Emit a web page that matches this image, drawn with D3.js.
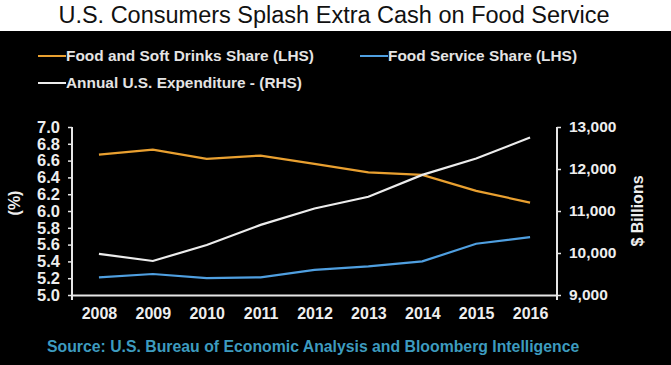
<!DOCTYPE html>
<html>
<head>
<meta charset="utf-8">
<script src="https://cdn.jsdelivr.net/npm/d3@7"></script>
<style>
  body { margin: 0; background: #fff; }
  svg { display: block; font-family: "Liberation Sans", Arial, sans-serif; }
</style>
</head>
<body>
<div id="chart"></div>
<script>
// chart data
const years = ['2008', '2009', '2010', '2011', '2012', '2013', '2014', '2015', '2016'];
const foodDrinksShare = [6.67, 6.73, 6.62, 6.66, 6.56, 6.46, 6.43, 6.24, 6.10];
const foodServiceShare = [5.21, 5.25, 5.20, 5.21, 5.30, 5.34, 5.40, 5.61, 5.69];
const annualExpenditure = [9980, 9810, 10190, 10670, 11060, 11340, 11860, 12250, 12750];
const leftTicks = [5.0, 5.2, 5.4, 5.6, 5.8, 6.0, 6.2, 6.4, 6.6, 6.8, 7.0];
const rightTicks = [9000, 10000, 11000, 12000, 13000];

const width = 671, height = 365;
const margin = { top: 127, right: 114, bottom: 70, left: 72 };

const svg = d3.select('#chart').append('svg')
    .attr('width', width)
    .attr('height', height);

// white title band, black chart area
svg.append('rect').attr('width', width).attr('height', 31).attr('fill', '#fff');
svg.append('rect').attr('y', 31).attr('width', width).attr('height', height - 31).attr('fill', '#000');

svg.append('text')
    .attr('x', 334)
    .attr('y', 23)
    .attr('text-anchor', 'middle')
    .attr('font-size', 23.5)
    .attr('fill', '#111')
    .text('U.S. Consumers Splash Extra Cash on Food Service');

const innerW = width - margin.left - margin.right;
const innerH = height - margin.top - margin.bottom;

const x = d3.scalePoint().domain(years).range([0, innerW]).padding(0.5);
const yL = d3.scaleLinear().domain([5, 7]).range([innerH, 0]);
const yR = d3.scaleLinear().domain([9000, 13000]).range([innerH, 0]);

const chart = svg.append('g').attr('transform', `translate(${margin.left},${margin.top})`);

const axisColor = '#e6e6e6';

// left axis
const leftAxis = chart.append('g')
    .call(d3.axisLeft(yL).tickValues(leftTicks).tickFormat(d3.format('.1f')).tickSizeOuter(0).tickSize(4).tickPadding(8));
leftAxis.selectAll('.tick text').attr('font-size', 16.5);
// right axis
const rightAxis = chart.append('g')
    .attr('transform', `translate(${innerW},0)`)
    .call(d3.axisRight(yR).tickValues(rightTicks).tickFormat(d3.format(',')).tickSizeOuter(0).tickSize(4).tickPadding(8));
rightAxis.selectAll('.tick text').attr('font-size', 15.5);
[leftAxis, rightAxis].forEach(a => {
    a.select('.domain').attr('stroke', axisColor).attr('stroke-width', 2)
        .attr('d', `M0,0V${innerH + 5}`);
    a.selectAll('.tick line').attr('stroke', axisColor).attr('stroke-width', 1.5);
    a.selectAll('.tick text').attr('fill', '#eee').attr('font-weight', 'bold');
});

// bottom axis
const bottomAxis = chart.append('g')
    .attr('transform', `translate(0,${innerH})`)
    .call(d3.axisBottom(x).tickSize(0).tickPadding(13));
bottomAxis.select('.domain').attr('stroke', axisColor).attr('stroke-width', 2);
bottomAxis.selectAll('.tick text').attr('fill', '#eee').attr('font-size', 16).attr('font-weight', 'bold');

// axis titles
svg.append('text')
    .attr('transform', `translate(20,${margin.top + innerH / 2 - 8}) rotate(-90)`)
    .attr('text-anchor', 'middle')
    .attr('font-size', 16).attr('font-weight', 'bold').attr('fill', '#eee')
    .text('(%)');
svg.append('text')
    .attr('transform', `translate(643,${margin.top + innerH / 2}) rotate(-90)`)
    .attr('text-anchor', 'middle')
    .attr('font-size', 16).attr('font-weight', 'bold').attr('fill', '#eee')
    .text('$ Billions');

// lines
const series = [
    { name: 'Food and Soft Drinks Share (LHS)', values: foodDrinksShare, scale: yL, color: '#e9a030' },
    { name: 'Food Service Share (LHS)', values: foodServiceShare, scale: yL, color: '#4f9fe0' },
    { name: 'Annual U.S. Expenditure - (RHS)', values: annualExpenditure, scale: yR, color: '#ececec' }
];

series.forEach(s => {
    const line = d3.line()
        .x((d, i) => x(years[i]))
        .y(d => s.scale(d));
    chart.append('path')
        .datum(s.values)
        .attr('fill', 'none')
        .attr('stroke', s.color)
        .attr('stroke-width', 2.2)
        .attr('d', line);
});

// legend
const legendPos = [[38, 56], [360, 56], [38, 83]];
series.forEach((s, i) => {
    const g = svg.append('g').attr('transform', `translate(${legendPos[i][0]},${legendPos[i][1]})`);
    g.append('line').attr('x1', 0).attr('x2', 28).attr('stroke', s.color).attr('stroke-width', 2);
    g.append('text')
        .attr('x', 28)
        .attr('dy', '0.35em')
        .attr('font-size', 15.4)
        .attr('font-weight', 'bold')
        .attr('fill', '#e4e4e4')
        .text(s.name);
});

// source
svg.append('text')
    .attr('x', 47)
    .attr('y', 352)
    .attr('font-size', 15.8)
    .attr('font-weight', 'bold')
    .attr('fill', '#3d9bbf')
    .text('Source:  U.S. Bureau of Economic Analysis and Bloomberg Intelligence');
</script>
</body>
</html>
